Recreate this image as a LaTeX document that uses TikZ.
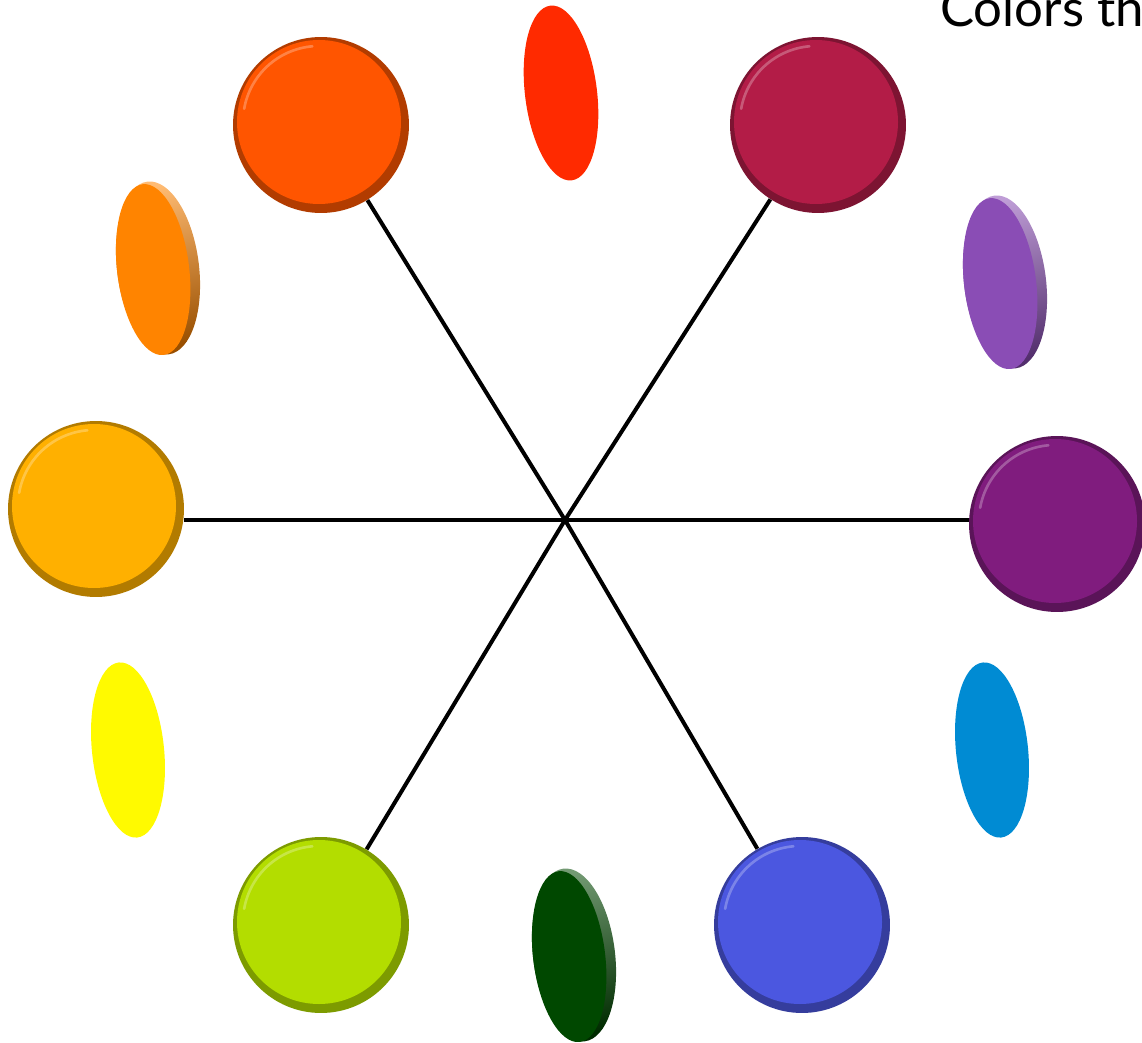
\documentclass[tikz,border=0pt]{standalone}
\usepackage{fontspec}
\newfontfamily\labelfont{Lato}
\usetikzlibrary{shapes.geometric}
\definecolor{cOR}{HTML}{FF5500}
\definecolor{cCR}{HTML}{B31C47}
\definecolor{cOY}{HTML}{FFB000}
\definecolor{cPU}{HTML}{801C7E}
\definecolor{cYG}{HTML}{B3DD00}
\definecolor{cBL}{HTML}{4B57E0}
\definecolor{eRD}{HTML}{FF2A00}
\definecolor{eOR}{HTML}{FF8400}
\definecolor{ePU}{HTML}{8A4DB5}
\definecolor{eYE}{HTML}{FFFA00}
\definecolor{eCY}{HTML}{008BD3}
\definecolor{eGR}{HTML}{004800}
\tikzset{
  disc/.style={circle, inner sep=0pt, minimum size=3.52cm, fill=#1!70!black,
    path picture={
      \fill[#1] ([shift={(-2,3)}]path picture bounding box.center) circle (82);
      \draw[#1!55!white, line width=1.5pt, opacity=0.6, line cap=round]
        ([shift={(-2,3)}]path picture bounding box.center) ++(95:76) arc (95:170:76);
    }},
  spoke/.style={line width=0.08cm, black},
}
\newcommand\gemthree[4]{% x, y, angle, colour
  \begin{scope}[shift={(#1,#2)}, rotate=#3]
    \shade[top color=#4!55!white, middle color=#4!80!black, bottom color=#4!60!black, shading angle=15] (0,0) ellipse (41 and 87);
    \fill[#4] (-5,-1) ellipse (36 and 86);
  \end{scope}}
\newcommand\gemflat[4]{% x, y, angle, colour
  \fill[#4, rotate around={#3:(#1,#2)}] (#1,#2) ellipse (36 and 88);}
\begin{document}
\begin{tikzpicture}[x=0.02cm,y=0.02cm]
\useasboundingbox (0,0) rectangle (1142,-1043);
\clip (0,0) rectangle (1142,-1043);

% ellipses
\gemflat{561}{-93}{7}{eRD}
\gemthree{158}{-268}{7}{eOR}
\gemthree{1005}{-282}{7}{ePU}
\gemflat{128}{-750}{6}{eYE}
\gemflat{992}{-750}{6}{eCY}
\gemthree{574}{-955}{7}{eGR}

% discs
\node[disc=cOR] (cOR) at (321,-125) {};
\node[disc=cCR] (cCR) at (818,-125) {};
\node[disc=cOY] (cOY) at (96,-509) {};
\node[disc=cPU] (cPU) at (1057,-524) {};
\node[disc=cYG] (cYG) at (321,-925) {};
\node[disc=cBL] (cBL) at (802,-925) {};

% spokes
\coordinate (O) at (565,-520);
\draw[spoke] (O) -- (cOR);
\draw[spoke] (O) -- (cCR);
\draw[spoke] (O) -- (cOY.east |- O);
\draw[spoke] (O) -- (cPU.west |- O);
\draw[spoke] (O) -- (cYG);
\draw[spoke] (O) -- (cBL);

% title (cut off by the edge, as in the reference)
\node[anchor=base west, inner sep=0pt, font=\labelfont\fontsize{29}{34}\selectfont] (title) at (940,-27) {Colors th};
\end{tikzpicture}
\end{document}
